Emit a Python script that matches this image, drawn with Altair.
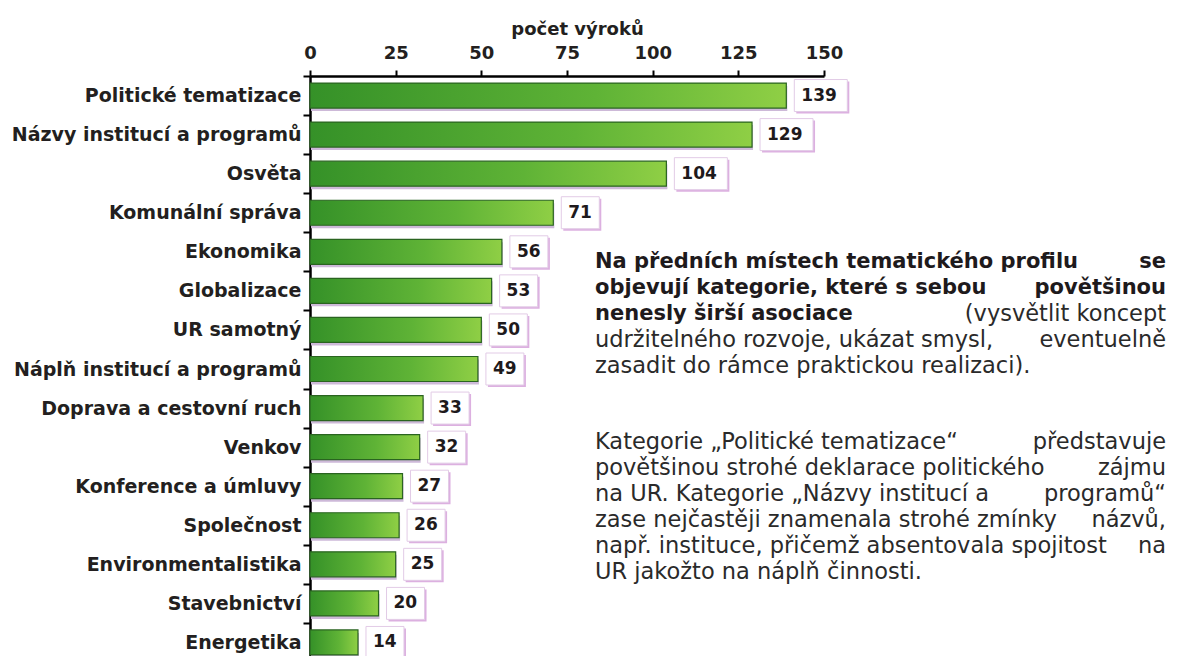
import altair as alt
import pandas as pd

# ---- data ----
categories = [
    "Politické tematizace", "Názvy institucí a programů", "Osvěta",
    "Komunální správa", "Ekonomika", "Globalizace", "UR samotný",
    "Náplň institucí a programů", "Doprava a cestovní ruch", "Venkov",
    "Konference a úmluvy", "Společnost", "Environmentalistika",
    "Stavebnictví", "Energetika",
]
values = [139, 129, 104, 71, 56, 53, 50, 49, 33, 32, 27, 26, 25, 20, 14]
x_ticks = [0, 25, 50, 75, 100, 125, 150]
x_title = "počet výroků"

# annotation text (each line: left part, right part pushed to the right margin)
para1_left = [
    "Na předních místech tematického profilu",
    "objevují kategorie, které s sebou",
    "nenesly širší asociace",
    "udržitelného rozvoje, ukázat smysl,",
    "zasadit do rámce praktickou realizaci).",
]
para1_left_bold = [True, True, True, False, False]
para1_right = ["se", "povětšinou", "(vysvětlit koncept", "eventuelně", ""]
para1_right_bold = [True, True, False, False, False]

para2_left = [
    "Kategorie „Politické tematizace“",
    "povětšinou strohé deklarace politického",
    "na UR. Kategorie „Názvy institucí a",
    "zase nejčastěji znamenala strohé zmínky",
    "např. instituce, přičemž absentovala spojitost",
    "UR jakožto na náplň činnosti.",
]
para2_right = ["představuje", "zájmu", "programů“", "názvů,", "na", ""]

# ---- layout constants ----
FONT = "DejaVu Sans"
W, H = 514, 580
STEP_RANGE = 586
LINE_H = 26
P1_TOP, P2_TOP = 186, 366
TXT_L, TXT_R = 285, 856

df = pd.DataFrame({"cat": categories, "val": values})

rows = []
for i, (l, lb, r, rb) in enumerate(zip(para1_left, para1_left_bold, para1_right, para1_right_bold)):
    y = P1_TOP + i * LINE_H
    rows.append({"t": l, "side": "L", "bold": lb, "py": y})
    if r:
        rows.append({"t": r, "side": "R", "bold": rb, "py": y})
for i, (l, r) in enumerate(zip(para2_left, para2_right)):
    y = P2_TOP + i * LINE_H
    rows.append({"t": l, "side": "L", "bold": False, "py": y})
    if r:
        rows.append({"t": r, "side": "R", "bold": False, "py": y})
notes = pd.DataFrame(rows)

y_enc = alt.Y(
    "cat:N", sort=categories,
    scale=alt.Scale(range=[0, STEP_RANGE], paddingInner=0, paddingOuter=0),
    axis=alt.Axis(
        title=None, labelFont=FONT, labelFontWeight="bold", labelFontSize=19,
        labelColor="#231f20", labelPadding=2, tickBand="extent", tickSize=7,
        tickWidth=2, tickColor="black", domainColor="black", domainWidth=2.5,
        labelLimit=400,
    ),
)
x_enc = alt.X(
    "val:Q", scale=alt.Scale(domain=[0, 150], nice=False),
    axis=alt.Axis(
        orient="top", values=x_ticks, title=x_title, titleFont=FONT,
        titleFontSize=18, titleFontWeight="bold", titleColor="#231f20",
        titlePadding=6, titleX=267,
        labelFont=FONT, labelFontSize=18, labelFontWeight="bold",
        labelColor="#231f20", labelPadding=8, labelFlush=False,
        tickSize=6, tickWidth=2, tickColor="black",
        domainColor="black", domainWidth=2.5, grid=False,
    ),
)

base = alt.Chart(df).encode(y=y_enc)

grad = alt.LinearGradient(
    gradient="linear",
    stops=[alt.GradientStop(color="#359128", offset=0),
           alt.GradientStop(color="#5fb336", offset=0.6),
           alt.GradientStop(color="#8fcf45", offset=1)],
    x1=0, x2=1, y1=0, y2=0,
)

bar_shadow = base.mark_bar(height=25, yOffset=3, xOffset=1, color="#cdb9d8").encode(x=x_enc)
bars = base.mark_bar(height=25, color=grad, stroke="#2a6420", strokeWidth=1.2).encode(x=x_enc)

big = base.transform_filter("datum.val >= 100")
small = base.transform_filter("datum.val < 100")

box_sh3 = big.mark_rect(height=32, xOffset=10, x2Offset=63, yOffset=2, fill="#dcb0e0").encode(x=x_enc, x2="val:Q")
box_sh2 = small.mark_rect(height=32, xOffset=10, x2Offset=48, yOffset=2, fill="#dcb0e0").encode(x=x_enc, x2="val:Q")
box3 = big.mark_rect(height=32, xOffset=8, x2Offset=61, fill="white", stroke="#e2cbe6", strokeWidth=1).encode(x=x_enc, x2="val:Q")
box2 = small.mark_rect(height=32, xOffset=8, x2Offset=46, fill="white", stroke="#e2cbe6", strokeWidth=1).encode(x=x_enc, x2="val:Q")

vals = base.mark_text(
    align="left", baseline="middle", dx=15, font=FONT, fontWeight="bold",
    fontSize=17, color="#1e1a1c",
).encode(x=x_enc, text="val:Q")


def note_layer(side, bold):
    return alt.Chart(notes).transform_filter(
        f"datum.side == '{side}' && datum.bold == {'true' if bold else 'false'}"
    ).mark_text(
        align="left" if side == "L" else "right", baseline="middle",
        font=FONT, fontSize=21 if bold else 22.5,
        fontWeight="bold" if bold else "normal",
        color="#1e1a1c" if bold else "#2a2a2a",
    ).encode(
        x=alt.value(TXT_L if side == "L" else TXT_R),
        y=alt.Y("py:Q", scale=None, axis=None),
        text="t:N",
    )


notes_layers = [note_layer(s, b) for s in ("L", "R") for b in (True, False)]

chart = alt.layer(
    bar_shadow, bars, box_sh3, box_sh2, box3, box2, vals, *notes_layers
).properties(
    width=W, height=H,
    autosize=alt.AutoSizeParams(type="none"),
    padding={"left": 302, "top": 68, "right": 346, "bottom": 0},
    background="white",
).configure_view(stroke=None)

chart.save("out.html", embed_options={"renderer": "svg", "actions": False})
